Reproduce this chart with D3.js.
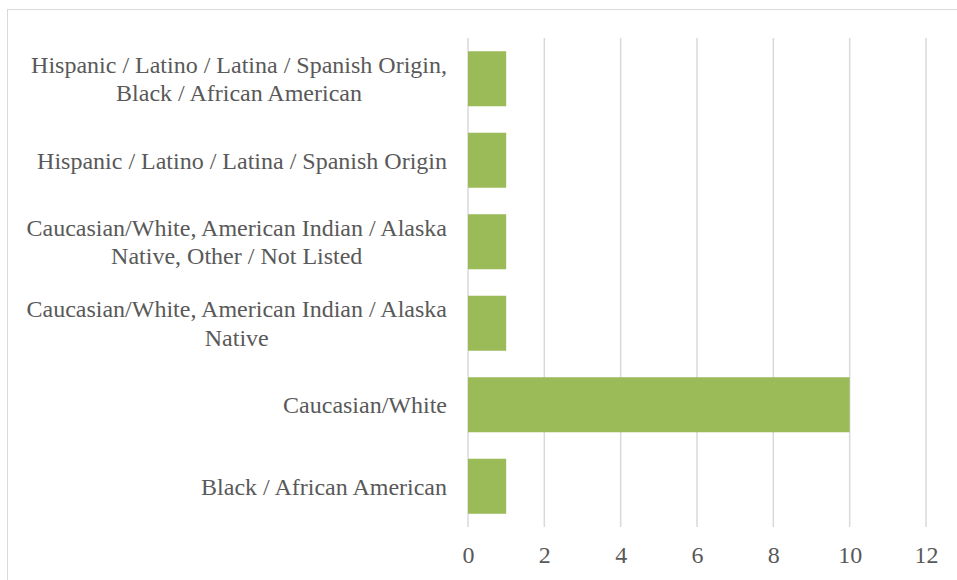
<!DOCTYPE html>
<html>
<head>
<meta charset="utf-8">
<script src="https://cdn.jsdelivr.net/npm/d3@7"></script>
<style>
  html, body { margin: 0; padding: 0; background: #fff; }
  svg { display: block; }
</style>
</head>
<body>
<svg id="chart" width="957" height="580"></svg>
<script>
// Respondent counts by race / ethnicity (top to bottom)
const categories = [
  ["Hispanic / Latino / Latina / Spanish Origin,", "Black / African American"],
  ["Hispanic / Latino / Latina / Spanish Origin"],
  ["Caucasian/White, American Indian / Alaska", "Native, Other / Not Listed"],
  ["Caucasian/White, American Indian / Alaska", "Native"],
  ["Caucasian/White"],
  ["Black / African American"]
];
const values = [1, 1, 1, 1, 10, 1];
const xTicks = [0, 2, 4, 6, 8, 10, 12];

const svg = d3.select("#chart");
const W = 957, H = 580;

// chart frame
svg.append("rect")
  .attr("x", 7.5).attr("y", 9.5)
  .attr("width", W + 10).attr("height", H + 10)
  .attr("fill", "#fff").attr("stroke", "#d9d9d9").attr("stroke-width", 1);

const plot = { left: 468, right: 926, top: 38, bottom: 527 };

const x = d3.scaleLinear().domain([0, 12]).range([plot.left, plot.right]);
const y = d3.scaleBand()
  .domain(d3.range(categories.length))
  .range([plot.top, plot.bottom])
  .paddingInner(0.325).paddingOuter(0.1625);

// vertical gridlines
svg.append("g")
  .selectAll("line")
  .data(xTicks)
  .join("line")
  .attr("x1", d => x(d)).attr("x2", d => x(d))
  .attr("y1", plot.top).attr("y2", plot.bottom)
  .attr("stroke", "#d9d9d9").attr("stroke-width", 1.5);

// bars
svg.append("g")
  .selectAll("rect")
  .data(values)
  .join("rect")
  .attr("x", x(0))
  .attr("y", (d, i) => y(i))
  .attr("width", d => x(d) - x(0))
  .attr("height", y.bandwidth())
  .attr("fill", "#9bbb59");

const font = "'Liberation Serif', 'Times New Roman', serif";

// x-axis tick labels
const xAxis = svg.append("g")
  .attr("transform", `translate(0,${plot.bottom})`)
  .call(d3.axisBottom(x).tickValues(xTicks).tickSize(0));
xAxis.select(".domain").remove();
xAxis.selectAll("text")
  .attr("y", 36)
  .attr("dy", 0)
  .attr("fill", "#595959")
  .style("font-family", font)
  .style("font-size", "24px");

// category labels: each block right-aligned to the axis, lines centred in the block
const labelRight = 447;
const lineH = 28.5;
const lg = svg.append("g");
categories.forEach((lines, i) => {
  const cy = y(i) + y.bandwidth() / 2;
  const t = lg.append("text")
    .attr("text-anchor", "middle")
    .attr("fill", "#595959")
    .style("font-family", font)
    .style("font-size", "24px");
  const spans = lines.map((ln, j) =>
    t.append("tspan")
      .attr("y", cy + (j - (lines.length - 1) / 2) * lineH)
      .attr("dy", "0.35em")
      .text(ln));
  const maxW = d3.max(spans, s => s.node().getComputedTextLength());
  spans.forEach(s => s.attr("x", labelRight - maxW / 2));
});
</script>
</body>
</html>
